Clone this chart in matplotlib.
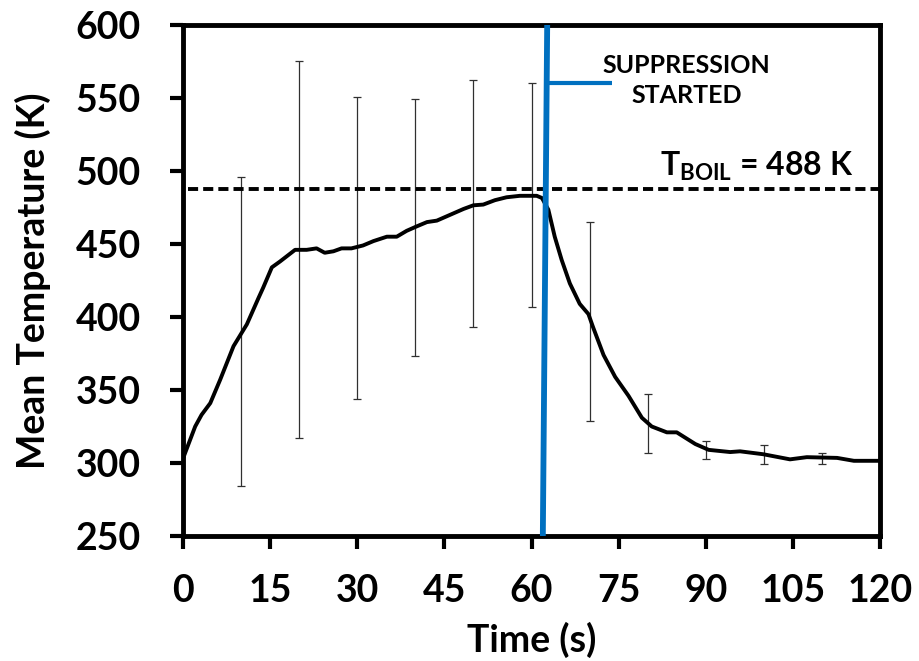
import matplotlib
matplotlib.use("Agg")
import matplotlib.pyplot as plt

plt.rcParams['font.family'] = ['Lato', 'DejaVu Sans']
plt.rcParams['font.weight'] = 'bold'
plt.rcParams['mathtext.fontset'] = 'custom'
plt.rcParams['mathtext.rm'] = 'Lato:bold'
plt.rcParams['mathtext.bf'] = 'Lato:bold'
plt.rcParams['mathtext.it'] = 'Lato:bold'

# mean temperature trace
time_s = [0, 2.1, 3.2, 4.7, 6.4, 8.7, 11.0, 13.0, 13.8, 15.3, 16.7, 19.3, 21.3,
          23.0, 24.4, 25.9, 27.3, 29.0, 31.0, 32.8, 35.1, 36.8, 38.5, 40.2, 42.0,
          43.7, 46.0, 48.3, 50.0, 51.7, 53.7, 55.7, 58.0, 60.9, 61.8, 62.9, 64.0,
          65.2, 66.6, 68.3, 69.8, 70.6, 72.4, 74.4, 76.7, 79.0, 80.7, 83.3, 85.0,
          88.2, 90.5, 94.2, 95.9, 99.9, 104.5, 107.4, 112.6, 115.5, 120]
temp_k = [303, 325, 333, 341, 357, 380, 395, 413, 420, 434, 438, 446, 446,
          447, 444, 445, 447, 447, 449, 452, 455, 455, 459, 462, 465,
          466, 470, 474, 476.5, 477, 480, 482, 483, 483, 481.5, 473.5, 455,
          439, 423, 409, 402, 393, 374, 359, 346, 331, 325, 321, 321,
          313, 309, 307.5, 308, 306, 302.5, 304, 303.5, 301.5, 301.5]

# spread of the thermocouple readings every 10 s
bar_t = [10, 20, 30, 40, 50, 60, 70, 80, 90, 100, 110]
bar_low = [284, 317, 344, 373, 393, 407, 329, 307, 303, 299, 299]
bar_high = [496, 575, 551, 549, 562, 560, 465, 347, 315, 312, 307]

t_boil = 488
supp_x = [61.95, 62.7]
supp_y = [250, 600]
tag_x = [62.65, 73.8]
tag_y = [560.5, 560.5]

fig = plt.figure(figsize=(9.19, 6.61), dpi=100)
ax = fig.add_axes([0.1991, 0.1891, 0.7585, 0.7731])

mid = [(lo + hi) / 2 for lo, hi in zip(bar_low, bar_high)]
half = [(hi - lo) / 2 for lo, hi in zip(bar_low, bar_high)]
ax.errorbar(bar_t, mid, yerr=half, fmt='none', ecolor='#303030',
            elinewidth=0.9, capsize=2.6, capthick=0.9, zorder=2)

ax.plot(time_s, temp_k, color='black', lw=2.8, zorder=3,
        solid_joinstyle='round', solid_capstyle='round')

ax.plot([0.8, 120], [t_boil, t_boil], color='black', lw=2.8,
        dashes=(2.6, 1.3), zorder=2)

ax.plot(supp_x, supp_y, color='#0070C0', lw=4.2, zorder=4,
        solid_capstyle='butt')
ax.plot(tag_x, tag_y, color='#0070C0', lw=3.0, zorder=4,
        solid_capstyle='butt')

ax.text(86.7, 562, 'SUPPRESSION\nSTARTED', ha='center', va='center',
        fontsize=18, fontweight='bold', linespacing=1.4)
ax.text(82.1, 496.6, r'$\mathrm{T_{BOIL}}$ = 488 K', ha='left',
        va='baseline', fontsize=23, fontweight='bold')

ax.set_xlim(0, 120)
ax.set_ylim(250, 600)
ax.set_xticks(range(0, 121, 15))
ax.set_yticks(range(250, 601, 50))

for side in ['left', 'right', 'top', 'bottom']:
    ax.spines[side].set_linewidth(3.5)
ax.tick_params(axis='both', direction='out', length=9.5, width=3,
               labelsize=27)
ax.tick_params(axis='y', pad=21)
ax.tick_params(axis='x', pad=18)
for lbl in ax.get_xticklabels() + ax.get_yticklabels():
    lbl.set_fontweight('bold')

ax.set_xlabel('Time (s)', fontsize=27, fontweight='bold')
ax.set_ylabel('Mean Temperature (K)', fontsize=27, fontweight='bold')
ax.xaxis.set_label_coords(0.5, -0.168)
ax.yaxis.set_label_coords(-0.190, 0.5)

fig.savefig('out.png', dpi=100)
